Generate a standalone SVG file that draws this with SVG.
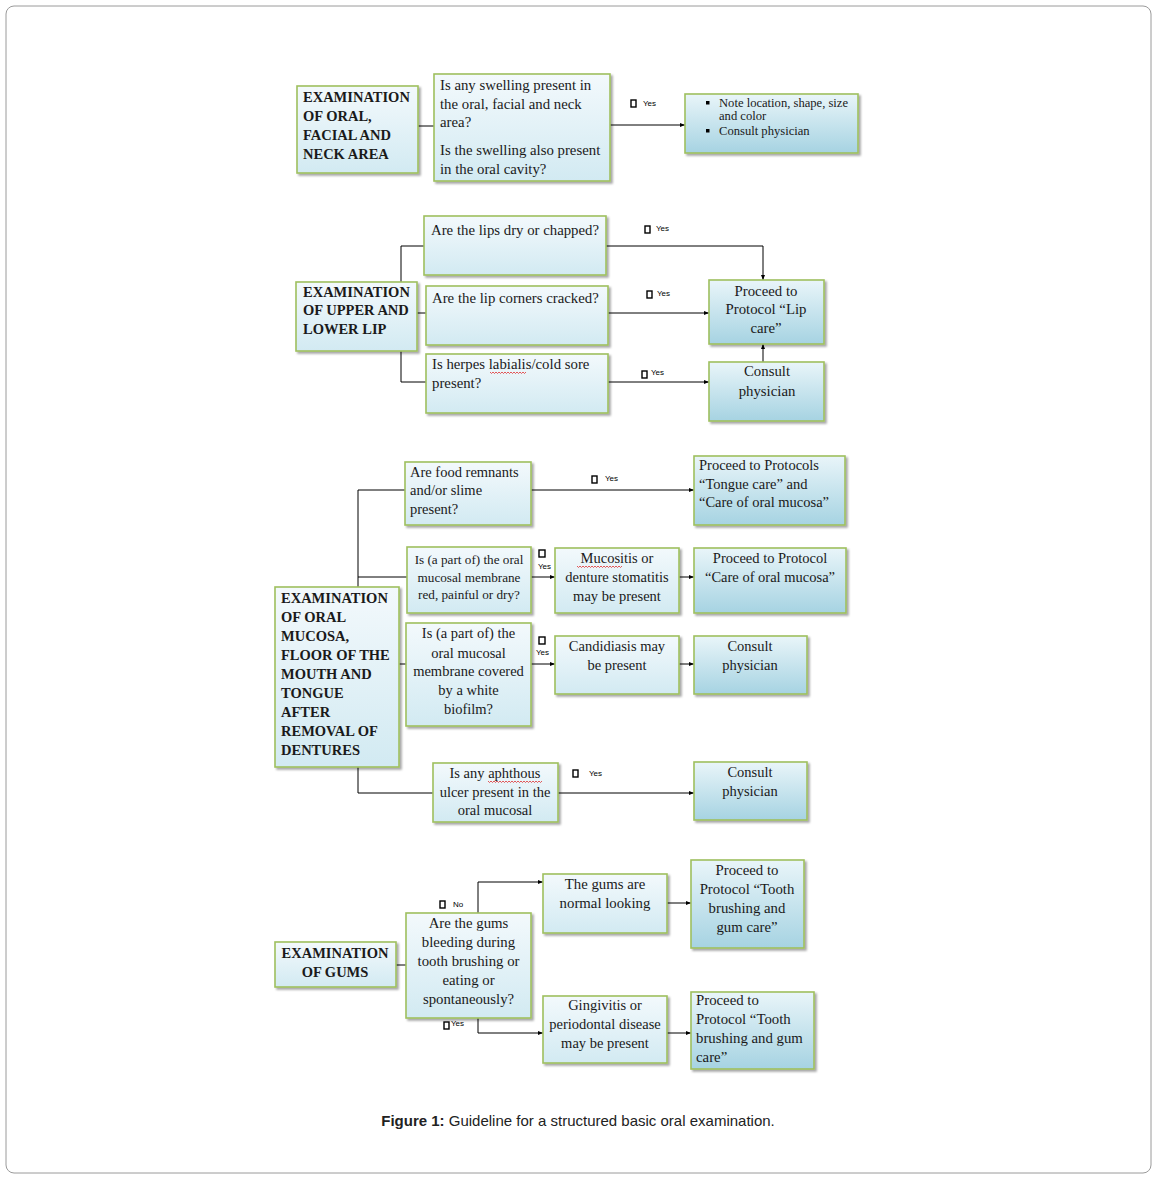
<svg xmlns="http://www.w3.org/2000/svg" width="1157" height="1179" viewBox="0 0 1157 1179">
<defs>
<linearGradient id="gq" x1="0" y1="0" x2="0" y2="1">
<stop offset="0" stop-color="#f3f9fc"/><stop offset="1" stop-color="#d2eaf2"/>
</linearGradient>
<linearGradient id="gr" x1="0" y1="0" x2="0" y2="1">
<stop offset="0" stop-color="#e9f5f9"/><stop offset="1" stop-color="#a6d3e2"/>
</linearGradient>
<marker id="ah" viewBox="0 0 10 10" refX="10" refY="5" markerWidth="5" markerHeight="5" orient="auto" markerUnits="userSpaceOnUse">
<path d="M0,1 L10,5 L0,9 Z" fill="#000"/>
</marker>
<filter id="sh" x="-10%" y="-10%" width="130%" height="130%">
<feDropShadow dx="2" dy="2" stdDeviation="1.2" flood-color="#000" flood-opacity="0.35"/>
</filter>
</defs>
<style>
.q{fill:url(#gq);stroke:#9fc05e;stroke-width:1.6;filter:url(#sh)}
.r{fill:url(#gr);stroke:#9fc05e;stroke-width:1.6;filter:url(#sh)}
.t{font-family:"Liberation Serif","Times New Roman",serif;font-size:14.8px;fill:#1a1a1a}
.s{font-size:13.2px}
.xs{font-size:12.6px}
.m{font-size:14.5px}
.b{font-weight:bold;font-size:14.5px}
.c{text-anchor:middle}
.ln{fill:none;stroke:#000;stroke-width:1}
.ar{fill:none;stroke:#000;stroke-width:1;marker-end:url(#ah)}
.sq{fill:#fff;stroke:#000;stroke-width:1.4}
.y{font-family:"Liberation Sans",Arial,sans-serif;font-size:8px;fill:#000}
.sp{fill:none;stroke:#e03030;stroke-width:0.8}
</style>
<rect x="6" y="6" width="1145" height="1167" rx="8" fill="#fff" stroke="#9a9a9a" stroke-width="1"/>

<g id="connectors">
<path class="ln" d="M418,126 H434"/>
<path class="ar" d="M610,125 H685"/>
<path class="ln" d="M401,282 V246 H424"/>
<path class="ln" d="M417,313 H426"/>
<path class="ln" d="M401,351 V382 H426"/>
<path class="ar" d="M606,246 H763 V280"/>
<path class="ar" d="M608,313 H709"/>
<path class="ar" d="M608,382 H709"/>
<path class="ar" d="M763,362 V344"/>
<path class="ln" d="M358,587 V490 H405"/>
<path class="ln" d="M358,577 H407"/>
<path class="ln" d="M399,664 H406"/>
<path class="ln" d="M358,767 V793 H433"/>
<path class="ar" d="M531,490 H694"/>
<path class="ar" d="M531,577 H555"/>
<path class="ar" d="M679,577 H694"/>
<path class="ar" d="M531,664 H555"/>
<path class="ar" d="M679,664 H694"/>
<path class="ar" d="M558,793 H694"/>
<path class="ln" d="M396,965 H406"/>
<path class="ar" d="M478,913 V882 H543"/>
<path class="ar" d="M478,1018 V1033 H543"/>
<path class="ar" d="M667,903 H691"/>
<path class="ar" d="M667,1033 H691"/>
</g>

<g id="labels">
<rect class="sq" x="631" y="100" width="5" height="7"/><text class="y" x="643" y="106">Yes</text>
<rect class="sq" x="645" y="226" width="5" height="7"/><text class="y" x="656" y="231">Yes</text>
<rect class="sq" x="647" y="291" width="5" height="7"/><text class="y" x="657" y="296">Yes</text>
<rect class="sq" x="642" y="371" width="5" height="7"/><text class="y" x="651" y="375">Yes</text>
<rect class="sq" x="592" y="476" width="5" height="7"/><text class="y" x="605" y="481">Yes</text>
<rect class="sq" x="539" y="550" width="6" height="7"/><text class="y" x="538" y="569">Yes</text>
<rect class="sq" x="539" y="637" width="6" height="7"/><text class="y" x="536" y="655">Yes</text>
<rect class="sq" x="573" y="770" width="5" height="7"/><text class="y" x="589" y="776">Yes</text>
<rect class="sq" x="440" y="901" width="5" height="7"/><text class="y" x="453" y="907">No</text>
<rect class="sq" x="444" y="1022" width="5" height="7"/><text class="y" x="451" y="1026">Yes</text>
</g>

<g id="n-a1">
<rect class="q" x="297" y="86" width="121" height="87"/>
<text class="t b" x="303" y="102">EXAMINATION</text>
<text class="t b" x="303" y="121">OF ORAL,</text>
<text class="t b" x="303" y="140">FACIAL AND</text>
<text class="t b" x="303" y="159">NECK AREA</text>
</g>
<g id="n-q1">
<rect class="q" x="434" y="74" width="176" height="107"/>
<text class="t" x="440" y="90">Is any swelling present in</text>
<text class="t" x="440" y="109">the oral, facial and neck</text>
<text class="t" x="440" y="127">area?</text>
<text class="t" x="440" y="155">Is the swelling also present</text>
<text class="t" x="440" y="174">in the oral cavity?</text>
</g>
<g id="n-r1">
<rect class="r" x="685" y="94" width="173" height="59"/>
<rect x="706" y="101" width="3.5" height="3.5" fill="#000"/>
<rect x="706" y="129" width="3.5" height="3.5" fill="#000"/>
<text class="t xs" x="719" y="107">Note location, shape, size</text>
<text class="t xs" x="719" y="120">and color</text>
<text class="t xs" x="719" y="135">Consult physician</text>
</g>

<g id="n-a2">
<rect class="q" x="296" y="282" width="121" height="69"/>
<text class="t b" x="303" y="297">EXAMINATION</text>
<text class="t b" x="303" y="315">OF UPPER AND</text>
<text class="t b" x="303" y="334">LOWER LIP</text>
</g>
<g id="n-q2a">
<rect class="q" x="424" y="216" width="182" height="59"/>
<text class="t" x="431" y="235">Are the lips dry or chapped?</text>
</g>
<g id="n-q2b">
<rect class="q" x="426" y="286" width="182" height="59"/>
<text class="t" x="432" y="303">Are the lip corners cracked?</text>
</g>
<g id="n-q2c">
<rect class="q" x="426" y="354" width="182" height="59"/>
<text class="t" x="432" y="369">Is herpes labialis/cold sore</text>
<text class="t" x="432" y="388">present?</text>
<path class="sp" d="M490,372 l1.5,1.5 l1.5,-1.5 l1.5,1.5 l1.5,-1.5 l1.5,1.5 l1.5,-1.5 l1.5,1.5 l1.5,-1.5 l1.5,1.5 l1.5,-1.5 l1.5,1.5 l1.5,-1.5 l1.5,1.5 l1.5,-1.5 l1.5,1.5 l1.5,-1.5 l1.5,1.5 l1.5,-1.5 l1.5,1.5 l1.5,-1.5 l1.5,1.5 l1.5,-1.5 l1.5,1.5 l1.5,-1.5"/>
</g>
<g id="n-r2a">
<rect class="r" x="709" y="280" width="115" height="64"/>
<text class="t c" x="766" y="296">Proceed to</text>
<text class="t c" x="766" y="314">Protocol “Lip</text>
<text class="t c" x="766" y="333">care”</text>
</g>
<g id="n-r2b">
<rect class="r" x="709" y="362" width="115" height="59"/>
<text class="t c" x="767" y="376">Consult</text>
<text class="t c" x="767" y="396">physician</text>
</g>

<g id="n-a3">
<rect class="q" x="275" y="587" width="124" height="180"/>
<text class="t b" x="281" y="603">EXAMINATION</text>
<text class="t b" x="281" y="622">OF ORAL</text>
<text class="t b" x="281" y="641">MUCOSA,</text>
<text class="t b" x="281" y="660">FLOOR OF THE</text>
<text class="t b" x="281" y="679">MOUTH AND</text>
<text class="t b" x="281" y="698">TONGUE</text>
<text class="t b" x="281" y="717">AFTER</text>
<text class="t b" x="281" y="736">REMOVAL OF</text>
<text class="t b" x="281" y="755">DENTURES</text>
</g>
<g id="n-q3a">
<rect class="q" x="405" y="462" width="126" height="63"/>
<text class="t m" x="410" y="477">Are food remnants</text>
<text class="t m" x="410" y="495">and/or slime</text>
<text class="t m" x="410" y="514">present?</text>
</g>
<g id="n-q3b">
<rect class="q" x="407" y="547" width="124" height="66"/>
<text class="t s c" x="469" y="564">Is (a part of) the oral</text>
<text class="t s c" x="469" y="582">mucosal membrane</text>
<text class="t s c" x="469" y="599">red, painful or dry?</text>
</g>
<g id="n-q3c">
<rect class="q" x="406" y="623" width="125" height="103"/>
<text class="t m c" x="468.5" y="638">Is (a part of) the</text>
<text class="t m c" x="468.5" y="658">oral mucosal</text>
<text class="t m c" x="468.5" y="676">membrane covered</text>
<text class="t m c" x="468.5" y="695">by a white</text>
<text class="t m c" x="468.5" y="714">biofilm?</text>
</g>
<g id="n-q3d">
<rect class="q" x="433" y="763" width="125" height="59"/>
<text class="t m c" x="495" y="778">Is any aphthous</text>
<text class="t m c" x="495" y="797">ulcer present in the</text>
<text class="t m c" x="495" y="815">oral mucosal</text>
<path class="sp" d="M488,781 l1.5,1.5 l1.5,-1.5 l1.5,1.5 l1.5,-1.5 l1.5,1.5 l1.5,-1.5 l1.5,1.5 l1.5,-1.5 l1.5,1.5 l1.5,-1.5 l1.5,1.5 l1.5,-1.5 l1.5,1.5 l1.5,-1.5 l1.5,1.5 l1.5,-1.5 l1.5,1.5 l1.5,-1.5 l1.5,1.5 l1.5,-1.5 l1.5,1.5 l1.5,-1.5 l1.5,1.5 l1.5,-1.5 l1.5,1.5 l1.5,-1.5 l1.5,1.5 l1.5,-1.5 l1.5,1.5 l1.5,-1.5 l1.5,1.5 l1.5,-1.5 l1.5,1.5 l1.5,-1.5 l1.5,1.5 l1.5,-1.5"/>
</g>
<g id="n-m3b">
<rect class="q" x="555" y="548" width="124" height="65"/>
<text class="t m c" x="617" y="563">Mucositis or</text>
<text class="t m c" x="617" y="582">denture stomatitis</text>
<text class="t m c" x="617" y="601">may be present</text>
<path class="sp" d="M577,566 l1.5,1.5 l1.5,-1.5 l1.5,1.5 l1.5,-1.5 l1.5,1.5 l1.5,-1.5 l1.5,1.5 l1.5,-1.5 l1.5,1.5 l1.5,-1.5 l1.5,1.5 l1.5,-1.5 l1.5,1.5 l1.5,-1.5 l1.5,1.5 l1.5,-1.5 l1.5,1.5 l1.5,-1.5 l1.5,1.5 l1.5,-1.5 l1.5,1.5 l1.5,-1.5 l1.5,1.5 l1.5,-1.5 l1.5,1.5 l1.5,-1.5 l1.5,1.5 l1.5,-1.5 l1.5,1.5 l1.5,-1.5"/>
</g>
<g id="n-m3c">
<rect class="q" x="555" y="636" width="124" height="58"/>
<text class="t m c" x="617" y="651">Candidiasis may</text>
<text class="t m c" x="617" y="670">be present</text>
</g>
<g id="n-r3a">
<rect class="r" x="694" y="456" width="151" height="69"/>
<text class="t m" x="699" y="470">Proceed to Protocols</text>
<text class="t m" x="699" y="489">“Tongue care” and</text>
<text class="t m" x="699" y="507">“Care of oral mucosa”</text>
</g>
<g id="n-r3b">
<rect class="r" x="694" y="548" width="152" height="65"/>
<text class="t m c" x="770" y="563">Proceed to Protocol</text>
<text class="t m c" x="770" y="582">“Care of oral mucosa”</text>
</g>
<g id="n-r3c">
<rect class="r" x="694" y="636" width="113" height="58"/>
<text class="t m c" x="750" y="651">Consult</text>
<text class="t m c" x="750" y="670">physician</text>
</g>
<g id="n-r3d">
<rect class="r" x="694" y="762" width="113" height="58"/>
<text class="t m c" x="750" y="777">Consult</text>
<text class="t m c" x="750" y="796">physician</text>
</g>

<g id="n-a4">
<rect class="q" x="275" y="942" width="121" height="45"/>
<text class="t b c" x="335" y="958">EXAMINATION</text>
<text class="t b c" x="335" y="977">OF GUMS</text>
</g>
<g id="n-q4">
<rect class="q" x="406" y="913" width="125" height="105"/>
<text class="t c" x="468.5" y="928">Are the gums</text>
<text class="t c" x="468.5" y="947">bleeding during</text>
<text class="t c" x="468.5" y="966">tooth brushing or</text>
<text class="t c" x="468.5" y="985">eating or</text>
<text class="t c" x="468.5" y="1004">spontaneously?</text>
</g>
<g id="n-n4">
<rect class="q" x="543" y="874" width="124" height="59"/>
<text class="t c" x="605" y="889">The gums are</text>
<text class="t c" x="605" y="908">normal looking</text>
</g>
<g id="n-g4">
<rect class="q" x="543" y="996" width="124" height="67"/>
<text class="t m c" x="605" y="1010">Gingivitis or</text>
<text class="t m c" x="605" y="1029">periodontal disease</text>
<text class="t m c" x="605" y="1048">may be present</text>
</g>
<g id="n-r4a">
<rect class="r" x="691" y="860" width="113" height="88"/>
<text class="t c" x="747" y="875">Proceed to</text>
<text class="t c" x="747" y="894">Protocol “Tooth</text>
<text class="t c" x="747" y="913">brushing and</text>
<text class="t c" x="747" y="932">gum care”</text>
</g>
<g id="n-r4b">
<rect class="r" x="691" y="992" width="123" height="77"/>
<text class="t" x="696" y="1005">Proceed to</text>
<text class="t" x="696" y="1024">Protocol “Tooth</text>
<text class="t" x="696" y="1043">brushing and gum</text>
<text class="t" x="696" y="1062">care”</text>
</g>

<text x="578" y="1126" text-anchor="middle" font-family="'Liberation Sans',Arial,sans-serif" font-size="15" fill="#222"><tspan font-weight="bold">Figure 1:</tspan> Guideline for a structured basic oral examination.</text>
</svg>
